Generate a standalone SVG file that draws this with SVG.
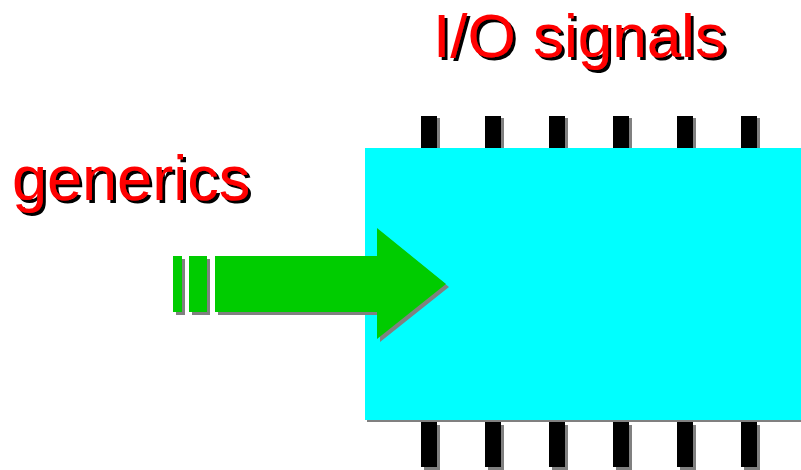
<svg xmlns="http://www.w3.org/2000/svg" width="801" height="470" viewBox="0 0 801 470">
<style>
.lbl{font-family:"Liberation Sans",Arial,sans-serif;font-size:63px;fill:#ff0000;filter:url(#tsh)}
.pin{fill:#000}
.psh{fill:#808080}
.gsh{fill:#808080}
.g{fill:#00cc00}
</style>
<defs>
<filter id="tsh" x="-5%" y="-20%" width="115%" height="150%">
<feOffset in="SourceAlpha" dx="3" dy="3" result="o"/>
<feFlood flood-color="#000"/>
<feComposite in2="o" operator="in" result="s"/>
<feMerge><feMergeNode in="s"/><feMergeNode in="SourceGraphic"/></feMerge>
</filter>
<g id="toppin"><rect class="psh" x="3" y="2" width="16" height="32"/><rect class="pin" x="0" y="0" width="16" height="32"/></g>
<g id="botpin"><rect class="psh" x="3" y="3" width="16" height="45"/><rect class="pin" x="0" y="0" width="16" height="45"/></g>
</defs>
<g id="io-label">
<text class="lbl" x="433" y="57" style="font-size:62px">I/O signals</text>
</g>
<g id="generics-label">
<text class="lbl" x="12" y="200">generics</text>
</g>
<g id="block">
<use href="#toppin" x="421" y="116"/>
<use href="#toppin" x="485" y="116"/>
<use href="#toppin" x="549" y="116"/>
<use href="#toppin" x="613" y="116"/>
<use href="#toppin" x="677" y="116"/>
<use href="#toppin" x="741" y="116"/>
<use href="#botpin" x="421" y="422"/>
<use href="#botpin" x="485" y="422"/>
<use href="#botpin" x="549" y="422"/>
<use href="#botpin" x="613" y="422"/>
<use href="#botpin" x="677" y="422"/>
<use href="#botpin" x="741" y="422"/>
<rect class="psh" x="367" y="150" width="440" height="272"/>
<rect x="365" y="148" width="440" height="272" fill="#00ffff"/>
</g>
<g id="connectors">
<g id="generics-arrow">
<rect class="gsh" x="176" y="259" width="9" height="56"/>
<rect class="gsh" x="192" y="259" width="18" height="56"/>
<polygon class="gsh" points="218,259 380,259 380,231 449,287 380,342 380,315 218,315"/>
<rect class="g" x="173" y="256" width="9" height="56"/>
<rect class="g" x="189" y="256" width="18" height="56"/>
<polygon class="g" points="215,256 377,256 377,228 446,284 377,339 377,312 215,312"/>
</g>
</g>
</svg>
